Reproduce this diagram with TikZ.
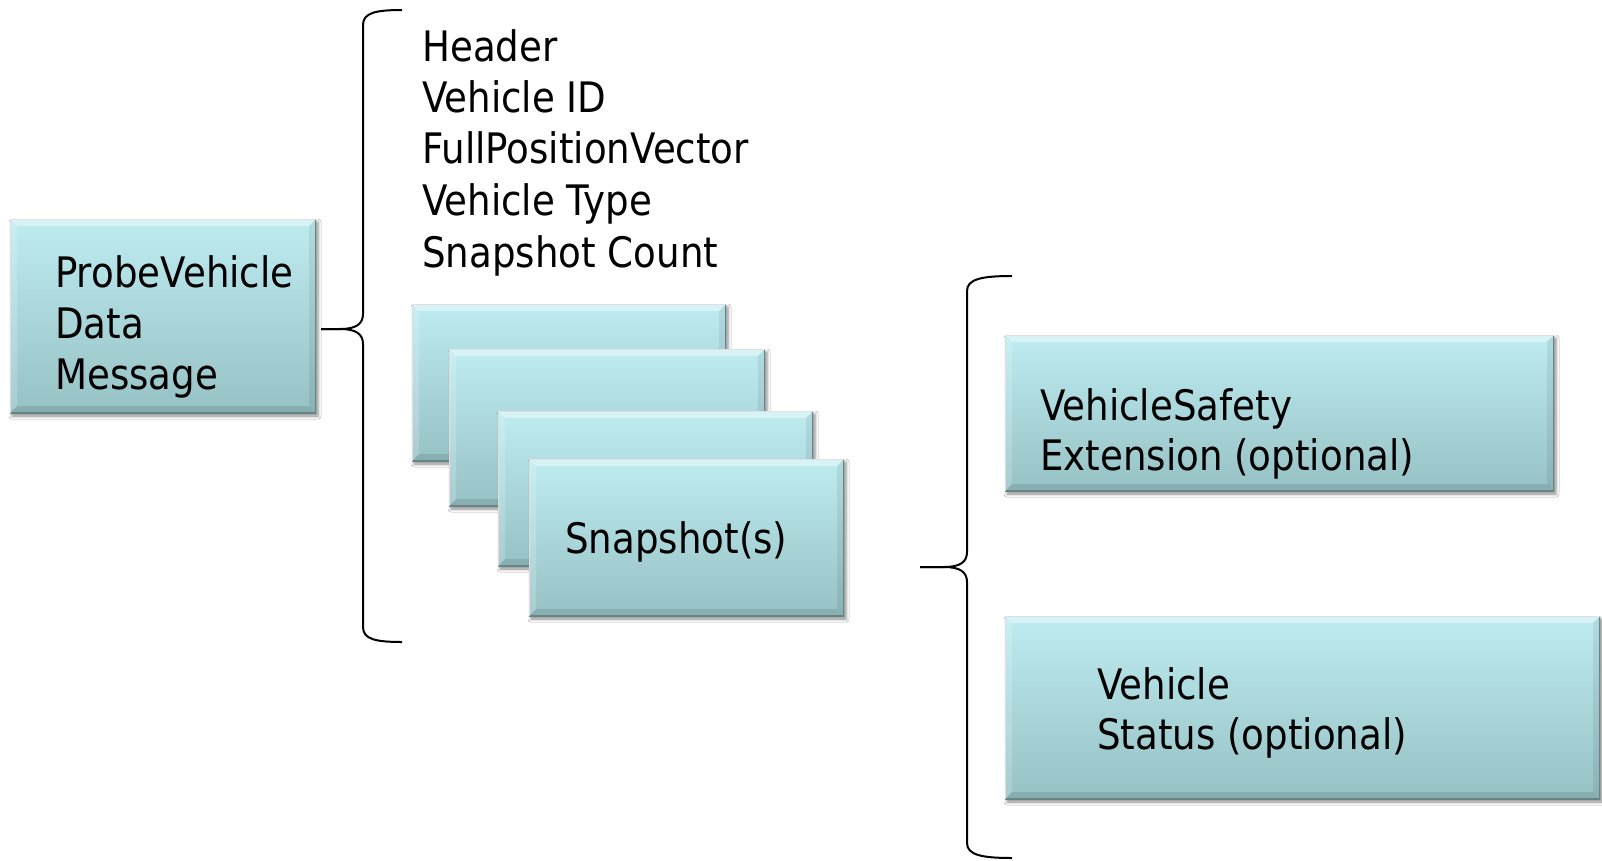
\documentclass[tikz,border=0pt]{standalone}
\usepackage{fontspec}
\setmainfont{DejaVu Sans}[FakeStretch=0.885]
\usetikzlibrary{shadows.blur}
\definecolor{boxtop}{RGB}{190,236,240}
\definecolor{boxbot}{RGB}{150,193,197}
\definecolor{boxedge}{RGB}{105,132,135}
\tikzset{
  cbox/.style={rectangle, inner sep=0pt, draw=none,
    top color=boxtop, bottom color=boxbot,
    blur shadow={shadow xshift=2pt, shadow yshift=-3pt, shadow blur radius=3pt, shadow opacity=45},
    path picture={
      \coordinate (pnw) at (path picture bounding box.north west);
      \coordinate (pne) at (path picture bounding box.north east);
      \coordinate (psw) at (path picture bounding box.south west);
      \coordinate (pse) at (path picture bounding box.south east);
      \fill[white,opacity=.40] (pnw) -- (pne) -- ([shift={(-7pt,-7pt)}]pne) -- ([shift={(7pt,-7pt)}]pnw) -- cycle;
      \fill[white,opacity=.18] (pnw) -- ([shift={(7pt,-7pt)}]pnw) -- ([shift={(7pt,7pt)}]psw) -- (psw) -- cycle;
      \fill[black,opacity=.07] (pne) -- (pse) -- ([shift={(-7pt,7pt)}]pse) -- ([shift={(-7pt,-7pt)}]pne) -- cycle;
      \fill[black,opacity=.10] (psw) -- (pse) -- ([shift={(-7pt,7pt)}]pse) -- ([shift={(7pt,7pt)}]psw) -- cycle;
      \draw[boxedge,line width=2pt] (pne) -- (pse) -- (psw);
      \draw[white!75!gray,line width=1pt] (psw) -- (pnw) -- (pne);
    }},
  txt/.style={anchor=base west, inner sep=0pt, font=\fontsize{42}{51}\selectfont},
  bracepath/.style={draw=black, line width=2pt}
}
\newcommand\cyanbox[5]{%
  \node[cbox, minimum width={(#4-#2)*1pt}, minimum height={(#5-#3)*1pt}] (#1) at ({(#2+#4)/2},{(#3+#5)/2}) {};}
\begin{document}
\begin{tikzpicture}[x=1pt,y=-1pt]
\useasboundingbox (0,0) rectangle (1602,860);
\fill[white] (0,0) rectangle (1602,860);

% left box
\cyanbox{pvdm}{10}{219}{316}{413}
\node[txt] (pvdm1) at (55,287) {ProbeVehicle};
\node[txt] (pvdm2) at (55,338) {Data};
\node[txt] (pvdm3) at (55,389) {Message};

% first brace
\coordinate (b1top) at (402,10);
\coordinate (b1tip) at (321,329);
\coordinate (b1bot) at (402,642);
\draw[bracepath] (b1top) .. controls (375,10) and (363,13) .. (363,25)
  -- (363,314) .. controls (363,324) and (356,329) .. (340,329) -- (b1tip);
\draw[bracepath] (b1tip) -- (340,329) .. controls (356,329) and (363,334) .. (363,344)
  -- (363,627) .. controls (363,639) and (375,642) .. (b1bot);

% list
\node[txt] (l1) at (422,61) {Header};
\node[txt] (l2) at (422,112) {Vehicle ID};
\node[txt] (l3) at (422,163) {FullPositionVector};
\node[txt] (l4) at (422,215) {Vehicle Type};
\node[txt] (l5) at (422,267) {Snapshot Count};

% snapshot stack
\cyanbox{s1}{412}{304}{726}{461}
\cyanbox{s2}{449}{349}{765}{506}
\cyanbox{s3}{498}{411}{813}{566}
\cyanbox{s4}{529}{459}{844}{616}
\node[txt] (snap) at (565,553) {Snapshot(s)};

% second brace
\coordinate (b2top) at (1012,276);
\coordinate (b2tip) at (920,567);
\coordinate (b2bot) at (1012,858);
\draw[bracepath] (b2top) .. controls (982,276) and (967,279) .. (967,291)
  -- (967,552) .. controls (967,562) and (960,567) .. (944,567) -- (b2tip);
\draw[bracepath] (b2tip) -- (944,567) .. controls (960,567) and (967,572) .. (967,582)
  -- (967,843) .. controls (967,855) and (982,858) .. (b2bot);

% right boxes
\cyanbox{vse}{1005}{335}{1554}{491}
\node[txt] (vse1) at (1040,420) {VehicleSafety};
\node[txt] (vse2) at (1040,470) {Extension (optional)};

\cyanbox{vs}{1005}{616}{1600}{799}
\node[txt] (vs1) at (1097,699) {Vehicle};
\node[txt] (vs2) at (1097,749) {Status (optional)};
\end{tikzpicture}
\end{document}
